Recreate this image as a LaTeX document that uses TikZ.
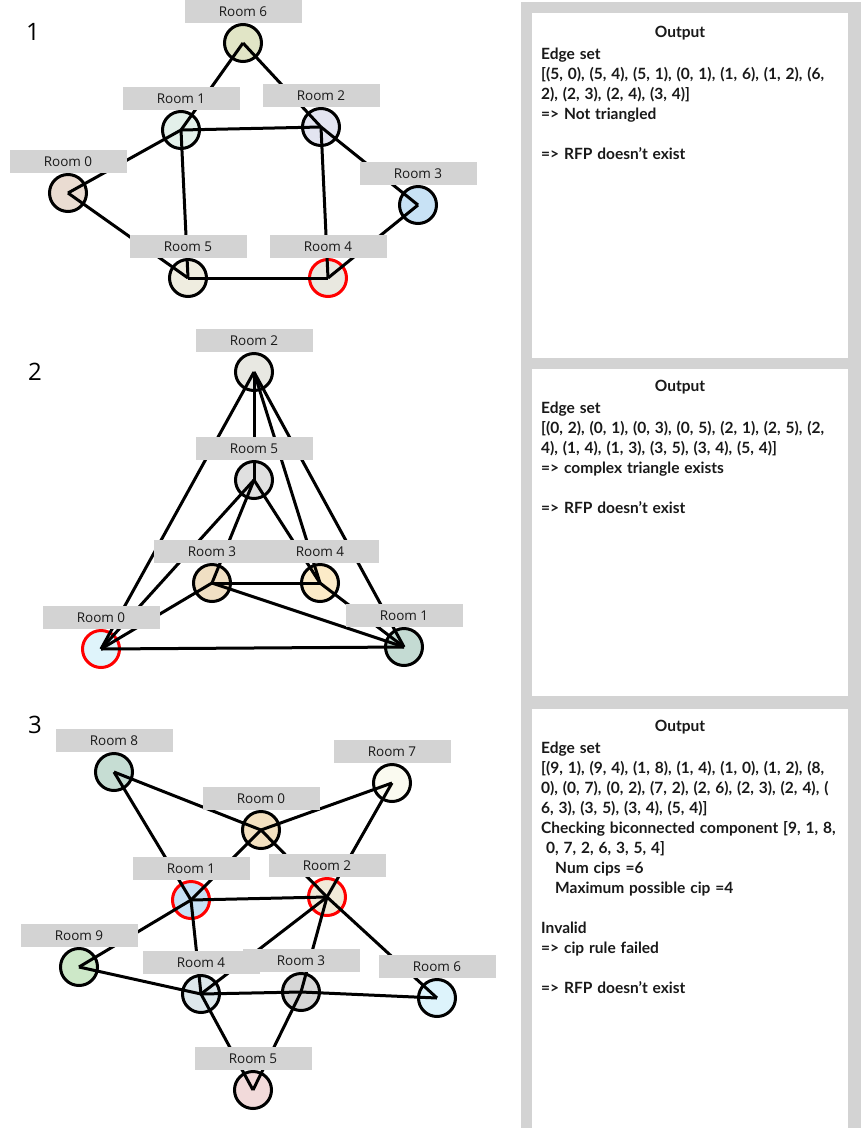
\documentclass[tikz,border=0pt]{standalone}
\usepackage{fontspec}
\setmainfont{Lato}[WordSpace=1.3]
\newfontfamily\roomfont{Open Sans}
\usetikzlibrary{positioning}

\definecolor{lblgray}{HTML}{D3D3D3}
% panel 1 fills
\definecolor{pa0}{HTML}{EADCD2}
\definecolor{pa1}{HTML}{E3F0EA}
\definecolor{pa2}{HTML}{E3E4F0}
\definecolor{pa3}{HTML}{C8E2F5}
\definecolor{pa4}{HTML}{E9E8E0}
\definecolor{pa5}{HTML}{EFEDE0}
\definecolor{pa6}{HTML}{E1E5C6}
% panel 2 fills
\definecolor{pb0}{HTML}{DFF4FB}
\definecolor{pb1}{HTML}{C4DBD3}
\definecolor{pb2}{HTML}{E8E8E2}
\definecolor{pb3}{HTML}{F0DFC3}
\definecolor{pb4}{HTML}{FCEBC8}
\definecolor{pb5}{HTML}{E0E0E0}
% panel 3 fills
\definecolor{pc0}{HTML}{F3E0C0}
\definecolor{pc1}{HTML}{C6E0F5}
\definecolor{pc2}{HTML}{F1EAD9}
\definecolor{pc3}{HTML}{D6D6D6}
\definecolor{pc4}{HTML}{DDE7EB}
\definecolor{pc5}{HTML}{F2DADA}
\definecolor{pc6}{HTML}{DDF3FB}
\definecolor{pc7}{HTML}{FAFAF0}
\definecolor{pc8}{HTML}{C6DDD3}
\definecolor{pc9}{HTML}{CDE8C8}

\tikzset{
  room/.style={circle, draw=black, line width=3pt, minimum size=37pt, inner sep=0pt},
  norm/.style={},
  cip/.style={draw=red},
  edge/.style={line width=3pt},
  rlabel/.style={fill=lblgray, minimum width=117pt, minimum height=23pt, inner sep=0pt,
    font=\roomfont\fontsize{13.5}{13.5}\selectfont, text=black!90},
  pnum/.style={font=\roomfont\fontsize{24}{24}\selectfont},
  otitle/.style={font=\bfseries\fontsize{15.5}{20}\selectfont, inner sep=0pt, text=black!90},
  otext/.style={font=\bfseries\fontsize{15.5}{20}\selectfont, align=left, anchor=north west,
    inner sep=0pt, text=black!90}
}

\begin{document}
\begin{tikzpicture}[x=1pt,y=-1pt]
\useasboundingbox (0,0) rectangle (861,1128);

% output column
\fill[lblgray] (521,2) rectangle (861,1128);
\fill[white] (532,13) rectangle (848,358);
\fill[white] (532,369) rectangle (848,696);
\fill[white] (532,709) rectangle (848,1128);

% ---- 1 ----
\node[pnum] (n1) at (33,32) {1};
\foreach \n/\x/\y/\s in {0/68/193/norm, 1/181/130/norm, 2/321/127/norm, 3/418/205/norm,
                          4/328/278/cip, 5/188/278/norm, 6/243/43/norm}
  \node[room, fill=pa\n, \s] (a\n) at (\x,\y) {};
\foreach \u/\v in {5/0, 5/4, 5/1, 0/1, 1/6, 1/2, 6/2, 2/3, 2/4, 3/4}
  \draw[edge] (a\u.center) -- (a\v.center);
\foreach \n in {0,...,6}
  \node[rlabel, above=0pt of a\n] {Room \n};

\node[otitle] (t1) at (680,33) {Output};
\node[otext] (o1) at (541,48) {Edge set\\
{[}(5, 0), (5, 4), (5, 1), (0, 1), (1, 6), (1, 2), (6,\\
2), (2, 3), (2, 4), (3, 4)]\\
=> Not triangled\\
\\
=> RFP doesn't exist};

% ---- 2 ----
\node[pnum] (n2) at (35,372) {2};
\foreach \n/\x/\y/\s in {0/101/649/cip, 1/404/647/norm, 2/254/372/norm,
                          3/212/583/norm, 4/320/583/norm, 5/254/480/norm}
  \node[room, fill=pb\n, \s] (b\n) at (\x,\y) {};
\foreach \u/\v in {0/2, 0/1, 0/3, 0/5, 2/1, 2/5, 2/4, 1/4, 1/3, 3/5, 3/4, 5/4}
  \draw[edge] (b\u.center) -- (b\v.center);
\foreach \n in {0,...,5}
  \node[rlabel, above=0pt of b\n] {Room \n};

\node[otitle] (t2) at (680,387) {Output};
\node[otext] (o2) at (541,402) {Edge set\\
{[}(0, 2), (0, 1), (0, 3), (0, 5), (2, 1), (2, 5), (2,\\
4), (1, 4), (1, 3), (3, 5), (3, 4), (5, 4)]\\
=> complex triangle exists\\
\\
=> RFP doesn't exist};

% ---- 3 ----
\node[pnum] (n3) at (35,725) {3};
\foreach \n/\x/\y/\s in {0/261/830/norm, 1/191/900/cip, 2/327/897/cip, 3/301/992/norm,
                          4/201/994/norm, 5/253/1090/norm, 6/437/998/norm,
                          7/392/783/norm, 8/114/772/norm, 9/79/967/norm}
  \node[room, fill=pc\n, \s] (c\n) at (\x,\y) {};
\foreach \u/\v in {9/1, 9/4, 1/8, 1/4, 1/0, 1/2, 8/0, 0/7, 0/2, 7/2, 2/6, 2/3, 2/4,
                   6/3, 3/5, 3/4, 5/4}
  \draw[edge] (c\u.center) -- (c\v.center);
\foreach \n in {0,...,9}
  \node[rlabel, above=0pt of c\n] {Room \n};

\node[otitle] (t3) at (680,727) {Output};
\node[otext] (o3) at (541,742) {Edge set\\
{[}(9, 1), (9, 4), (1, 8), (1, 4), (1, 0), (1, 2), (8,\\
0), (0, 7), (0, 2), (7, 2), (2, 6), (2, 3), (2, 4), (\\
6, 3), (3, 5), (3, 4), (5, 4)]\\
Checking biconnected component [9, 1, 8,\\
\ 0, 7, 2, 6, 3, 5, 4]\\
\hspace*{14pt}Num cips =6\\
\hspace*{14pt}Maximum possible cip =4\\
\\
Invalid\\
=> cip rule failed\\
\\
=> RFP doesn't exist};
\end{tikzpicture}
\end{document}
